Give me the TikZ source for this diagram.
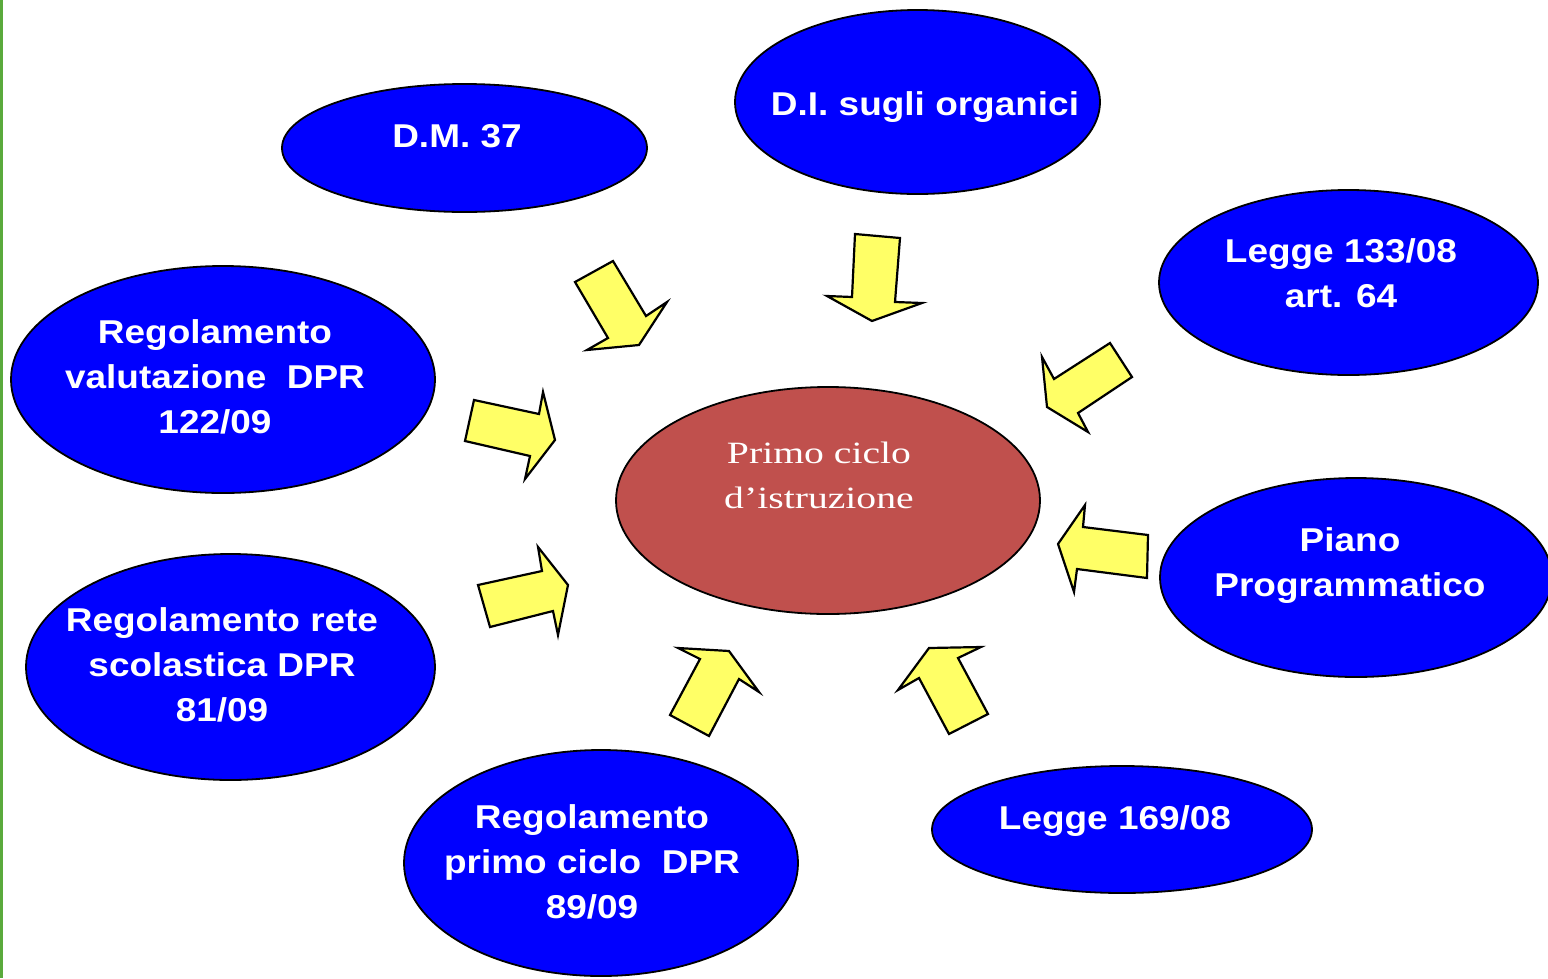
\documentclass[tikz,border=0pt]{standalone}
\usepackage{fontspec}
\usetikzlibrary{shapes.geometric}
\newfontfamily\labfont[FakeStretch=1.12]{Liberation Sans}
\newfontfamily\serfont[FakeStretch=1.28]{Liberation Serif}
\definecolor{ellblue}{RGB}{0,0,255}
\definecolor{ctrred}{RGB}{192,80,77}
\definecolor{arrowyellow}{RGB}{255,255,102}
\definecolor{sidegreen}{RGB}{90,170,60}
\begin{document}
\begin{tikzpicture}[x=1pt,y=-1pt,
  blob/.style={ellipse, draw=black, line width=1.8pt, fill=ellblue, inner sep=0pt},
  centreblob/.style={ellipse, draw=black, line width=1.8pt, fill=ctrred, inner sep=0pt},
  lab/.style={text=white, align=center, inner sep=0pt, font=\labfont\bfseries\fontsize{33}{45}\selectfont},
  ctrlab/.style={text=white, align=center, inner sep=0pt, font=\serfont\fontsize{31}{45}\selectfont},
  blockarrow/.style={draw=black, line width=2.2pt, fill=arrowyellow, line join=miter}]
\useasboundingbox (0,0) rectangle (1548,978);
\clip (0,0) rectangle (1548,978);
\fill[white] (0,0) rectangle (1548,978);
\fill[sidegreen] (0,0) rectangle (3,978);

% ellipses
\node[blob, minimum width=365pt, minimum height=128pt] (dm) at (464.5,148) {};
\node[blob, minimum width=365pt, minimum height=184pt] (di) at (917.5,102) {};
\node[blob, minimum width=379pt, minimum height=185pt] (l133) at (1348.5,282.5) {};
\node[blob, minimum width=424pt, minimum height=227pt] (val) at (223,379.5) {};
\node[blob, minimum width=409pt, minimum height=226pt] (rete) at (230.5,667) {};
\node[blob, minimum width=392pt, minimum height=199pt] (piano) at (1356,577.5) {};
\node[blob, minimum width=394pt, minimum height=226pt] (primo) at (601,863) {};
\node[blob, minimum width=380pt, minimum height=127pt] (l169) at (1122,829.5) {};
\node[centreblob, minimum width=424pt, minimum height=227pt] (ctr) at (828,500.5) {};

% labels
\node[lab] (dmt) at (457,136) {D.M. 37};
\node[lab] (dit) at (925,107) {D.I. sugli organici};
\node[lab] (l133t) at (1341,273) {Legge 133/08\\art. 64};
\node[lab] (valt) at (215,377) {Regolamento\\valutazione~~DPR\\122/09};
\node[lab] (retet) at (222,665) {Regolamento rete\\scolastica DPR\\81/09};
\node[lab] (pianot) at (1350,566) {Piano\\Programmatico};
\node[lab] (primot) at (592,862) {Regolamento\\primo ciclo~~DPR\\89/09};
\node[lab] (l169t) at (1115,821) {Legge 169/08};
\node[ctrlab] (ctrt) at (819,475) {Primo ciclo\\d’istruzione};

% block arrows
\filldraw[blockarrow] (575,282) -- (613,261) -- (646,316) -- (667,302) -- (639,345) -- (587,350) -- (608,338) -- cycle;
\filldraw[blockarrow] (855,234) -- (900,238) -- (895,302) -- (922,303) -- (872,321) -- (827,296) -- (852,297) -- cycle;
\filldraw[blockarrow] (1110,343) -- (1132,377) -- (1078,413) -- (1088,432) -- (1047,407) -- (1042,357) -- (1054,379) -- cycle;
\filldraw[blockarrow] (474,400) -- (465,441) -- (530,456) -- (525,479) -- (555,440) -- (543,392) -- (539,414) -- cycle;
\filldraw[blockarrow] (478,585) -- (490,627) -- (553,611) -- (558,635) -- (568,585) -- (538,547) -- (542,571) -- cycle;
\filldraw[blockarrow] (670,715) -- (709,736) -- (739,679) -- (759,692) -- (729,651) -- (678,648) -- (700,659) -- cycle;
\filldraw[blockarrow] (988,714) -- (949,734) -- (919,678) -- (898,690) -- (929,648) -- (981,647) -- (958,658) -- cycle;
\filldraw[blockarrow] (1148,535) -- (1147,578) -- (1077,569) -- (1074,592) -- (1058,544) -- (1085,505) -- (1083,527) -- cycle;
\end{tikzpicture}
\end{document}
